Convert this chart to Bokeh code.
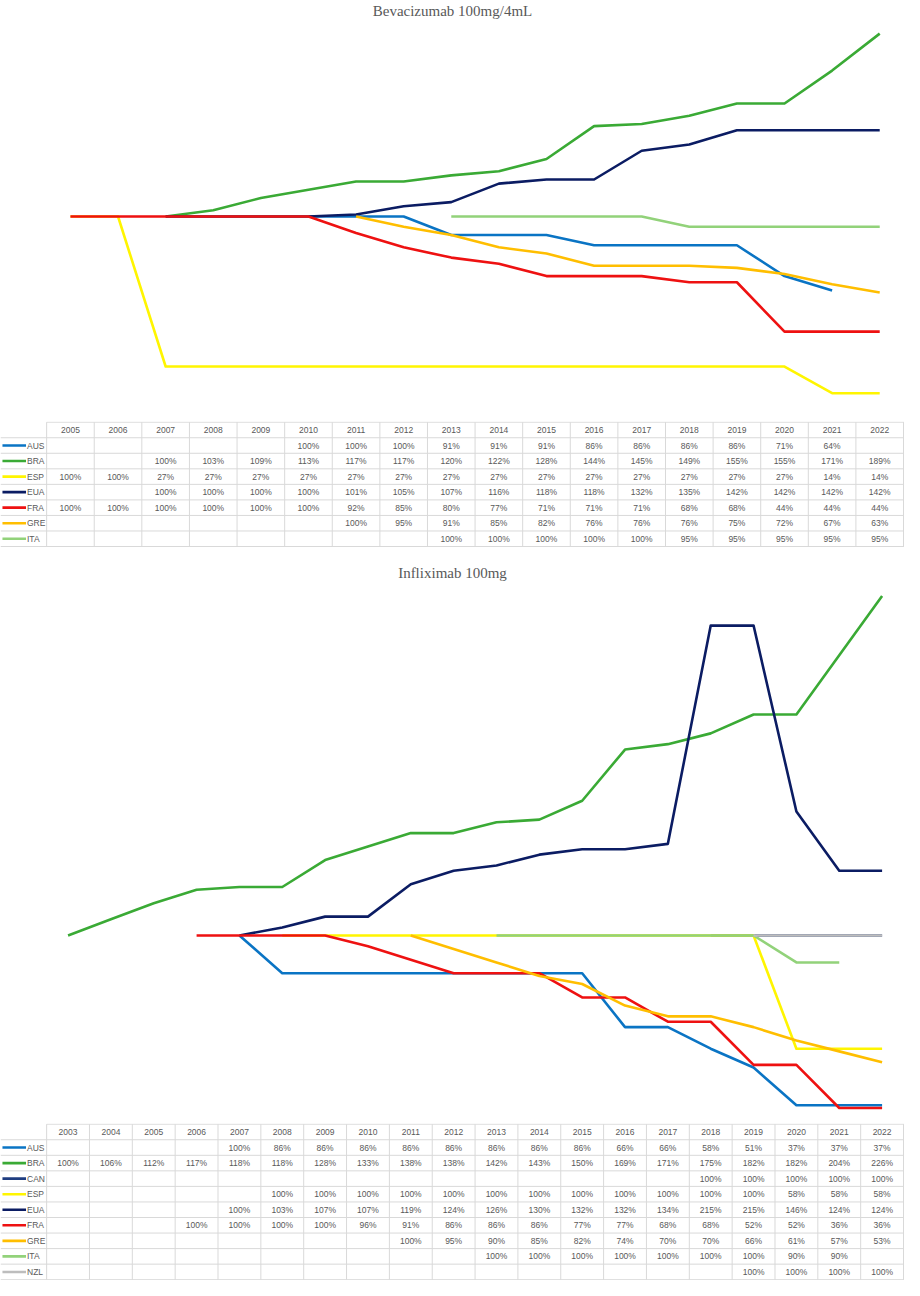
import math
from bokeh.plotting import figure
from bokeh.models import Range1d, Label, ColumnDataSource
from bokeh.layouts import column
from bokeh.embed import file_html
from bokeh.resources import INLINE
from bokeh.core.properties import value

N = None

# ---------------- Data: Bevacizumab 100mg/4mL ----------------
bev_title = "Bevacizumab 100mg/4mL"
bev_years = list(range(2005, 2023))
bev_names = ["AUS", "BRA", "ESP", "EUA", "FRA", "GRE", "ITA"]
bev_AUS = [N, N, N, N, N, 100, 100, 100, 91, 91, 91, 86, 86, 86, 86, 71, 64, N]
bev_BRA = [N, N, 100, 103, 109, 113, 117, 117, 120, 122, 128, 144, 145, 149, 155, 155, 171, 189]
bev_ESP = [100, 100, 27, 27, 27, 27, 27, 27, 27, 27, 27, 27, 27, 27, 27, 27, 14, 14]
bev_EUA = [N, N, 100, 100, 100, 100, 101, 105, 107, 116, 118, 118, 132, 135, 142, 142, 142, 142]
bev_FRA = [100, 100, 100, 100, 100, 100, 92, 85, 80, 77, 71, 71, 71, 68, 68, 44, 44, 44]
bev_GRE = [N, N, N, N, N, N, 100, 95, 91, 85, 82, 76, 76, 76, 75, 72, 67, 63]
bev_ITA = [N, N, N, N, N, N, N, N, 100, 100, 100, 100, 100, 95, 95, 95, 95, 95]

# ---------------- Data: Infliximab 100mg ----------------
inf_title = "Infliximab 100mg"
inf_years = list(range(2003, 2023))
inf_names = ["AUS", "BRA", "CAN", "ESP", "EUA", "FRA", "GRE", "ITA", "NZL"]
inf_AUS = [N, N, N, N, 100, 86, 86, 86, 86, 86, 86, 86, 86, 66, 66, 58, 51, 37, 37, 37]
inf_BRA = [100, 106, 112, 117, 118, 118, 128, 133, 138, 138, 142, 143, 150, 169, 171, 175, 182, 182, 204, 226]
inf_CAN = [N, N, N, N, N, N, N, N, N, N, N, N, N, N, N, 100, 100, 100, 100, 100]
inf_ESP = [N, N, N, N, N, 100, 100, 100, 100, 100, 100, 100, 100, 100, 100, 100, 100, 58, 58, 58]
inf_EUA = [N, N, N, N, 100, 103, 107, 107, 119, 124, 126, 130, 132, 132, 134, 215, 215, 146, 124, 124]
inf_FRA = [N, N, N, 100, 100, 100, 100, 96, 91, 86, 86, 86, 77, 77, 68, 68, 52, 52, 36, 36]
inf_GRE = [N, N, N, N, N, N, N, N, 100, 95, 90, 85, 82, 74, 70, 70, 66, 61, 57, 53]
inf_ITA = [N, N, N, N, N, N, N, N, N, N, 100, 100, 100, 100, 100, 100, 100, 90, 90, N]
inf_NZL = [N, N, N, N, N, N, N, N, N, N, N, N, N, N, N, N, 100, 100, 100, 100]

colors = {
    "AUS": "#0A74C4",
    "BRA": "#3AAA35",
    "CAN": "#1F3D80",
    "ESP": "#FFF500",
    "EUA": "#0B1C63",
    "FRA": "#EE1111",
    "GRE": "#FFBE00",
    "ITA": "#92D27A",
    "NZL": "#BDBDBD",
}

W = 904
TXT = "#595959"
GRID = "#D9D9D9"
LBL_W = 47.0   # label column width (reference px)
FULL_W = 920.0


def base_fig(height, xr, yr):
    p = figure(width=W, height=height, x_range=xr, y_range=yr,
               output_backend="svg", toolbar_location=None,
               x_axis_location=None, y_axis_location=None,
               min_border=0, min_border_left=0, min_border_right=0,
               min_border_top=0, min_border_bottom=0,
               background_fill_color="white", border_fill_color="white",
               outline_line_color=None)
    p.xgrid.visible = False
    p.ygrid.visible = False
    return p


def chart(title, years, names, series, height, ytop, ybot, title_base):
    ncol = len(years)
    cw = (FULL_W - LBL_W) / ncol
    xs = years[0] - 0.5 - LBL_W / cw
    xe = years[-1] + 0.5 + 1.0 / cw
    xr = Range1d(xs, xe)
    p = base_fig(height, xr, Range1d(ybot, ytop))
    for nm, vals in zip(names, series):
        ys = [float("nan") if v is None else v for v in vals]
        p.line(x=years, y=ys, line_color=colors[nm], line_width=2.6,
               line_join="round")
    p.add_layout(Label(x=W / 2, y=height - title_base, x_units="screen",
                       y_units="screen", text=title, text_align="center",
                       text_baseline="alphabetic", text_font="Liberation Serif",
                       text_font_size="15px", text_color=TXT))
    return p, xr, cw, xs, xe


def table(years, names, series, height, row_h, xr, cw, xs, xe):
    nrow = len(names) + 1
    top_off = 0.7
    yr = Range1d((height - top_off) / row_h, -top_off / row_h)
    t = base_fig(height, xr, yr)
    left_edge = years[0] - 0.5
    # horizontal grid lines
    hx0 = [left_edge] + [xs] * (nrow)
    hy = list(range(0, nrow + 1))
    t.segment(x0=hx0, y0=hy, x1=[xe - 0.5 / cw] * len(hy), y1=hy,
              line_color=GRID, line_width=1)
    # vertical grid lines
    vx = [left_edge + k for k in range(len(years))] + [xe - 1.0 / cw]
    t.segment(x0=vx, y0=[0] * len(vx), x1=vx, y1=[nrow] * len(vx),
              line_color=GRID, line_width=1)
    # header
    t.text(x=years, y=[0.5] * len(years), text=[str(y) for y in years],
           text_align="center", text_baseline="middle",
           text_font=value("Liberation Sans"), text_font_size="8.5px",
           text_color=TXT)
    # legend keys and names
    rows = [i + 1.5 for i in range(len(names))]
    t.segment(x0=[xs + 2.0 / cw] * len(names), y0=rows,
              x1=[xs + 26.0 / cw] * len(names), y1=rows,
              line_color=[colors[n] for n in names], line_width=2.6)
    t.text(x=[xs + 27.0 / cw] * len(names), y=rows, text=names,
           text_align="left", text_baseline="middle",
           text_font=value("Liberation Sans"), text_font_size="8.5px",
           text_color=TXT)
    # values
    cx, cy, ct = [], [], []
    for i, vals in enumerate(series):
        for yv, v in zip(years, vals):
            if v is not None:
                cx.append(yv)
                cy.append(i + 1.5)
                ct.append(f"{v}%")
    src = ColumnDataSource(dict(x=cx, y=cy, t=ct))
    t.text(x="x", y="y", text="t", source=src, text_align="center",
           text_baseline="middle", text_font=value("Liberation Sans"),
           text_font_size="8.5px", text_color=TXT)
    return t


bev_series = [bev_AUS, bev_BRA, bev_ESP, bev_EUA, bev_FRA, bev_GRE, bev_ITA]
inf_series = [inf_AUS, inf_BRA, inf_CAN, inf_ESP, inf_EUA, inf_FRA, inf_GRE, inf_ITA, inf_NZL]

# chart 1: 100% at 216 px from top, 2.055 px per percentage point
H1 = 421
k1 = 2.055
p1, xr1, cw1, xs1, xe1 = chart(bev_title, bev_years, bev_names, bev_series, H1,
                               100 + 216 / k1, 100 - (H1 - 216) / k1, 10)
t1 = table(bev_years, bev_names, bev_series, 126, 15.54, xr1, cw1, xs1, xe1)

# chart 2: 100% at 388 px from top, 2.695 px per percentage point
H2 = 576
k2 = 2.695
p2, xr2, cw2, xs2, xe2 = chart(inf_title, inf_years, inf_names, inf_series, H2,
                               100 + 388 / k2, 100 - (H2 - 388) / k2, 25)
t2 = table(inf_years, inf_names, inf_series, 157, 15.55, xr2, cw2, xs2, xe2)

layout = column(p1, t1, p2, t2, spacing=0)
open("out.html", "w").write(file_html(layout, INLINE))
